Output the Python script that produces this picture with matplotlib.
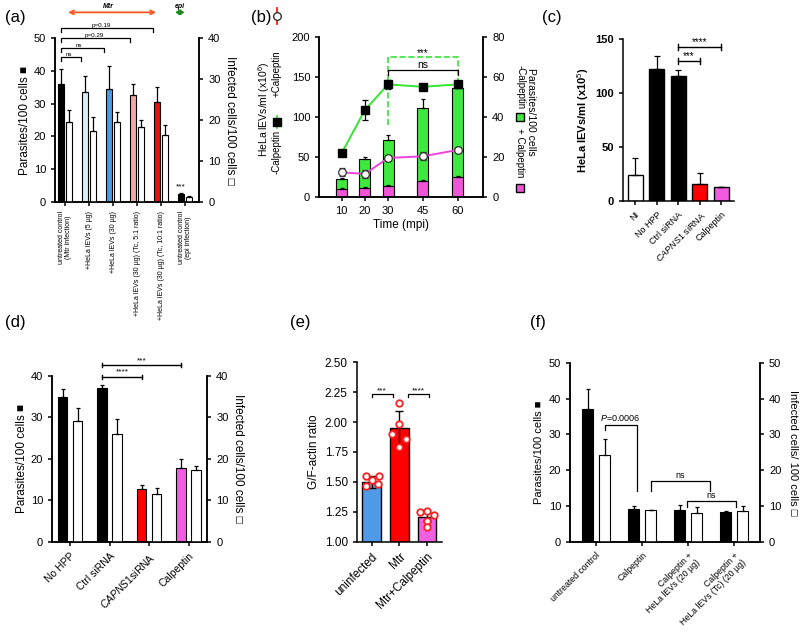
import numpy as np
import matplotlib
matplotlib.use("Agg")
import matplotlib.pyplot as plt

plt.rcParams['font.family'] = ['Liberation Sans', 'DejaVu Sans']
plt.rcParams['mathtext.fontset'] = 'custom'
plt.rcParams['mathtext.it'] = 'Liberation Sans:italic'
plt.rcParams['mathtext.rm'] = 'Liberation Sans'
plt.rcParams['axes.linewidth'] = 1.1
plt.rcParams['xtick.major.width'] = 1.1
plt.rcParams['ytick.major.width'] = 1.1
plt.rcParams['xtick.major.size'] = 3
plt.rcParams['ytick.major.size'] = 3

# ---------------- data ----------------
# (a)
a_labels = ["untreated control\n(Mtr infection)", "+HeLa lEVs (5 µg)", "+HeLa lEVs (30 µg)",
            "+HeLa lEVs (30 µg) (Tc, 5:1 ratio)", "+HeLa lEVs (30 µg) (Tc, 10:1 ratio)",
            "untreated control\n(epi infection)"]
a_parasites = [36, 33.5, 34.5, 32.5, 30.5, 2.5]
a_parasites_err = [4.5, 5, 7, 3.5, 4.5, 0.3]
a_infected = [19.6, 17.2, 19.6, 18.2, 16.4, 1.2]
a_infected_err = [2.8, 3.6, 2.4, 1.8, 2.4, 0.3]
a_colors = ["#000000", "#d8eef9", "#4a9be6", "#f6a5a5", "#ee1010", "#000000"]

# (b)
b_time = [10, 20, 30, 45, 60]
b_evs_minus = [55, 109, 141, 138, 141]
b_evs_minus_err = [4, 13, 6, 4, 4]
b_evs_plus = [31, 29, 49, 51, 59]
b_evs_plus_err = [5, 5, 4, 5, 4]
b_par_minus = [9, 19.2, 28.8, 44.8, 54.8]
b_par_minus_err = [0.5, 0.8, 2.4, 4.4, 2.0]
b_par_plus = [4, 4.4, 5.6, 8, 10]
b_par_plus_err = [0.5, 0.8, 0.5, 0.5, 0.5]

# (c)
c_labels = ["NI", "No HPP", "Ctrl siRNA", "$\\it{CAPNS1}$ siRNA", "Calpeptin"]
c_values = [24, 122, 116, 16, 12.5]
c_err = [15.5, 12, 5, 10, 0.5]
c_colors = ["#ffffff", "#000000", "#000000", "#ff0000", "#f25ce0"]

# (d)
d_labels = ["No HPP", "Ctrl siRNA", "$\\it{CAPNS1}$siRNA", "Calpeptin"]
d_parasites = [34.8, 37, 12.8, 17.8]
d_parasites_err = [2, 0.8, 1, 2.2]
d_infected = [29, 26, 11.5, 17.2]
d_infected_err = [3.2, 3.5, 1.5, 1]
d_colors = ["#000000", "#000000", "#ff0000", "#f25ce0"]

# (e)
e_labels = ["uninfected", "Mtr", "Mtr+Calpeptin"]
e_means = [1.50, 1.95, 1.21]
e_err = [0.05, 0.14, 0.04]
e_colors = ["#4f9be8", "#ff0000", "#f060e0"]
e_points = [[1.55, 1.55, 1.52, 1.47, 1.48],
            [2.16, 1.98, 1.90, 1.86, 1.79],
            [1.25, 1.26, 1.22, 1.17, 1.12]]
e_jitter = [[-0.2, 0.25, 0.0, -0.2, 0.22],
            [0.0, 0.0, -0.25, 0.25, 0.0],
            [-0.25, 0.0, 0.25, 0.0, 0.0]]

# (f)
f_labels = ["untreated control", "Calpeptin", "Calpeptin +\nHeLa lEVs (20 µg)",
            "Calpeptin +\nHeLa lEVs (Tc) (20 µg)"]
f_parasites = [37.2, 9.2, 8.8, 8.2]
f_parasites_err = [5.4, 0.8, 1.6, 0.3]
f_infected = [24.3, 8.8, 8.0, 8.5]
f_infected_err = [4.4, 0.15, 1.7, 1.5]

fig = plt.figure(figsize=(8, 6.42), dpi=100)


def style(ax, right=False):
    ax.spines['top'].set_visible(False)
    if not right:
        ax.spines['right'].set_visible(False)


def up_err(vals, errs):
    return [np.zeros(len(vals)), errs]


ekw = dict(lw=0.9, capthick=0.9, ecolor='black')


def bracket_down(ax, x1, x2, y, h, text, fs=5, dy=0.0, tx=None, color='black', ls='-'):
    ax.plot([x1, x1, x2, x2], [y - h, y, y, y - h], color=color, lw=0.9, ls=ls, clip_on=False)
    if text:
        ax.text((x1 + x2) / 2 if tx is None else tx, y + dy, text, ha='center', va='bottom',
                fontsize=fs, clip_on=False)


def bracket_caps(ax, x1, x2, y, h, text, fs=6, dy=0.0):
    ax.plot([x1, x2], [y, y], color='black', lw=1.0, clip_on=False)
    ax.plot([x1, x1], [y - h, y + h], color='black', lw=1.0, clip_on=False)
    ax.plot([x2, x2], [y - h, y + h], color='black', lw=1.0, clip_on=False)
    ax.text((x1 + x2) / 2, y + dy, text, ha='center', va='bottom', fontsize=fs, clip_on=False)


# ---------------- (a) ----------------
axA = fig.add_axes([0.069, 0.6854, 0.18, 0.2555])
xa = np.arange(len(a_labels))
axA.bar(xa - 0.17, a_parasites, 0.26, color=a_colors, edgecolor='black', lw=0.8,
        yerr=up_err(a_parasites, a_parasites_err), capsize=1.5, error_kw=ekw)
axA2 = axA.twinx()
axA2.bar(xa + 0.17, a_infected, 0.26, color='white', edgecolor='black', lw=0.8,
         yerr=up_err(a_infected, a_infected_err), capsize=1.5, error_kw=ekw)
axA.set_xlim(-0.42, 5.58)
axA.set_ylim(0, 50)
axA2.set_ylim(0, 40)
axA.set_yticks([0, 10, 20, 30, 40, 50])
axA2.set_yticks([0, 10, 20, 30, 40])
axA.tick_params(axis='y', labelsize=8)
axA2.tick_params(axis='y', labelsize=8)
axA.set_xticks(xa)
axA.set_xticklabels(a_labels, rotation=90, fontsize=5.0, va='top', ha='center', linespacing=1.0)
axA.set_ylabel("Parasites/100 cells \u25A0", fontsize=8.5, labelpad=2)
axA2.set_ylabel("Infected cells/100 cells \u25A1", fontsize=8.5, rotation=270, labelpad=11)
axA.spines['top'].set_visible(False)
axA2.spines['top'].set_visible(False)
bracket_down(axA, -0.17, 0.67, 44.3, 1.2, "ns", fs=4.5, tx=0.15)
bracket_down(axA, -0.17, 1.6, 46.9, 1.2, "ns", fs=4.5, tx=0.55)
bracket_down(axA, -0.17, 2.7, 49.9, 1.2, "p=0.29", fs=4.5, tx=1.2)
bracket_down(axA, -0.17, 3.67, 52.9, 1.2, "p=0.19", fs=4.5, tx=1.5)
axA.text(4.83, 3.5, "***", ha='center', va='bottom', fontsize=6)
axA.annotate('', xy=(3.9, 57.8), xytext=(0, 57.8), annotation_clip=False,
             arrowprops=dict(arrowstyle='<->', color='#ff5522', lw=1.3, mutation_scale=7))
axA.text(1.8, 58.6, "Mtr", fontsize=5, fontweight='bold', fontstyle='italic', ha='center',
         va='bottom', clip_on=False)
axA.annotate('', xy=(5.1, 57.8), xytext=(4.45, 57.8), annotation_clip=False,
             arrowprops=dict(arrowstyle='<->', color='#1a8a1a', lw=1.3, mutation_scale=7))
axA.text(4.78, 58.6, "epi", fontsize=5, fontweight='bold', fontstyle='italic', ha='center',
         va='bottom', clip_on=False)
fig.text(0.006, 0.965, "(a)", fontsize=12)

# ---------------- (b) ----------------
axB = fig.add_axes([0.399, 0.693, 0.205, 0.249])
axB2 = axB.twinx()
axB2.bar(b_time, b_par_minus, 4.7, color='#3ee83e', edgecolor='black', lw=0.8,
         yerr=up_err(b_par_minus, b_par_minus_err), capsize=1.5, error_kw=ekw)
axB2.bar(b_time, b_par_plus, 4.7, color='#f055d8', edgecolor='black', lw=0.8,
         yerr=up_err(b_par_plus, b_par_plus_err), capsize=1.5, error_kw=ekw)
axB.set_zorder(axB2.get_zorder() + 1)
axB.patch.set_visible(False)
axB.errorbar(b_time, b_evs_minus, yerr=b_evs_minus_err, color='#33e633', lw=1.4,
             marker='s', ms=6, mfc='black', mec='black', ecolor='black', elinewidth=0.9,
             capsize=2.5, capthick=0.9)
axB.errorbar(b_time, b_evs_plus, yerr=b_evs_plus_err, color='#ee44dd', lw=1.4,
             marker='o', ms=5.5, mfc='white', mec='#333333', mew=0.9, ecolor='#333333',
             elinewidth=0.9, capsize=2.5, capthick=0.9)
axB.set_xlim(0.3, 71)
axB.set_ylim(0, 200)
axB2.set_ylim(0, 80)
axB.set_yticks([0, 50, 100, 150, 200])
axB2.set_yticks([0, 20, 40, 60, 80])
axB.set_xticks(b_time)
axB.tick_params(labelsize=8)
axB2.tick_params(labelsize=8)
axB.spines['top'].set_visible(False)
axB2.spines['top'].set_visible(False)
axB.set_xlabel("Time (mpi)", fontsize=8.5, labelpad=2)
axB.text(-0.335, 0.55, "HeLa lEVs/ml (x10$^6$)", rotation=90, transform=axB.transAxes,
         ha='center', va='center', fontsize=7.5)
axB.text(-0.258, 0.28, "-Calpeptin", rotation=90, transform=axB.transAxes,
         ha='center', va='center', fontsize=7)
axB.text(-0.258, 0.77, "+Calpeptin", rotation=90, transform=axB.transAxes,
         ha='center', va='center', fontsize=7)
axB.plot([-0.258, -0.258], [0.43, 0.51], color='#33e633', lw=1.2, transform=axB.transAxes,
         clip_on=False)
axB.plot([-0.258], [0.47], marker='s', ms=6, color='black', transform=axB.transAxes,
         clip_on=False)
axB.plot([-0.258, -0.258], [1.08, 1.18], color='red', lw=1.2, transform=axB.transAxes,
         clip_on=False)
axB.plot([-0.258], [1.13], marker='o', ms=5.5, mfc='white', mec='#333333',
         transform=axB.transAxes, clip_on=False)
axB.text(1.29, 0.53, "Parasites/100 cells", rotation=270, transform=axB.transAxes,
         ha='center', va='center', fontsize=7.5)
axB.text(1.225, 0.69, "-Calpeptin", rotation=270, transform=axB.transAxes,
         ha='center', va='center', fontsize=7)
axB.text(1.225, 0.28, "+ Calpeptin", rotation=270, transform=axB.transAxes,
         ha='center', va='center', fontsize=7)
axB.plot([1.225], [0.5], marker='s', ms=6, mfc='#3ee83e', mec='black',
         transform=axB.transAxes, clip_on=False)
axB.plot([1.225], [0.06], marker='s', ms=6, mfc='#f055d8', mec='black',
         transform=axB.transAxes, clip_on=False)
axB.plot([30, 30, 60, 60], [90, 175, 175, 147], color='#33e633', lw=1.2, ls='--',
         clip_on=False)
axB.text(45, 174, "***", ha='center', va='bottom', fontsize=7)
bracket_down(axB, 30, 60, 159, 6, "ns", fs=7.5)
fig.text(0.314, 0.965, "(b)", fontsize=12)

# ---------------- (c) ----------------
axC = fig.add_axes([0.779, 0.687, 0.139, 0.252])
xc = np.arange(len(c_labels))
axC.bar(xc, c_values, 0.7, color=c_colors, edgecolor='black', lw=1.0,
        yerr=up_err(c_values, c_err), capsize=2, error_kw=ekw)
axC.set_xlim(-0.55, 4.6)
axC.set_ylim(0, 150)
axC.set_yticks([0, 50, 100, 150])
axC.tick_params(axis='y', labelsize=8)
axC.set_xticks(xc)
axC.set_xticklabels(c_labels, rotation=45, ha='right', rotation_mode='anchor', fontsize=6.5)
for t in axC.get_yticklabels():
    t.set_fontweight('bold')
axC.set_ylabel("HeLa lEVs/ml (x10$^5$)", fontsize=8, fontweight='bold', labelpad=3)
style(axC)
bracket_caps(axC, 2, 3, 129.6, 2.5, "***", fs=7)
bracket_caps(axC, 2, 4, 142.9, 2.5, "****", fs=7)
fig.text(0.678, 0.965, "(c)", fontsize=12)

# ---------------- (d) ----------------
axD = fig.add_axes([0.065, 0.156, 0.194, 0.2586])
xd = np.arange(len(d_labels))
axD.bar(xd - 0.19, d_parasites, 0.24, color=d_colors, edgecolor='black', lw=0.8,
        yerr=up_err(d_parasites, d_parasites_err), capsize=1.5, error_kw=ekw)
axD2 = axD.twinx()
axD2.bar(xd + 0.19, d_infected, 0.24, color='white', edgecolor='black', lw=0.8,
         yerr=up_err(d_infected, d_infected_err), capsize=1.5, error_kw=ekw)
axD.set_xlim(-0.46, 3.47)
axD.set_ylim(0, 40)
axD2.set_ylim(0, 40)
axD.set_yticks([0, 10, 20, 30, 40])
axD2.set_yticks([0, 10, 20, 30, 40])
axD.tick_params(axis='y', labelsize=8)
axD2.tick_params(axis='y', labelsize=8)
axD.set_xticks(xd)
axD.set_xticklabels(d_labels, rotation=45, ha='right', rotation_mode='anchor', fontsize=7.5)
axD.spines['top'].set_visible(False)
axD2.spines['top'].set_visible(False)
axD.set_ylabel("Parasites/100 cells \u25A0", fontsize=8.5, labelpad=2)
axD2.set_ylabel("Infected cells/100 cells \u25A1", fontsize=8.5, rotation=270, labelpad=11)
bracket_caps(axD, 0.81, 1.81, 39.8, 0.5, "****", fs=6, dy=0.2)
bracket_caps(axD, 0.81, 2.81, 42.6, 0.5, "***", fs=6, dy=0.2)
fig.text(0.006, 0.49, "(d)", fontsize=12)

# ---------------- (e) ----------------
axE = fig.add_axes([0.446, 0.156, 0.106, 0.28])
xe = np.arange(len(e_labels))
axE.bar(xe, np.array(e_means) - 1.0, 0.68, bottom=1.0, color=e_colors, edgecolor='black',
        lw=1.0)
axE.errorbar(xe, e_means, yerr=e_err, fmt='none', ecolor='black', elinewidth=1.0,
             capsize=3, capthick=1.0, zorder=3)
for i in range(len(e_points)):
    axE.scatter(np.array(e_jitter[i]) + i, e_points[i], s=22, facecolors='white',
                edgecolors='#ff2020', linewidths=1.3, zorder=4)
axE.set_xlim(-0.54, 2.53)
axE.set_ylim(1.0, 2.5)
axE.set_yticks([1.00, 1.25, 1.50, 1.75, 2.00, 2.25, 2.50])
axE.set_yticklabels(["1.00", "1.25", "1.50", "1.75", "2.00", "2.25", "2.50"])
axE.tick_params(axis='y', labelsize=8.5)
axE.set_xticks(xe)
axE.set_xticklabels(e_labels, rotation=45, ha='right', rotation_mode='anchor', fontsize=8.5)
axE.set_ylabel("G/F-actin ratio", fontsize=8.5, labelpad=3)
style(axE)
bracket_down(axE, 0.0, 0.76, 2.23, 0.02, "***", fs=6)
bracket_down(axE, 1.3, 2.06, 2.23, 0.02, "****", fs=6)
fig.text(0.362, 0.49, "(e)", fontsize=12)

# ---------------- (f) ----------------
axF = fig.add_axes([0.7125, 0.156, 0.2375, 0.279])
xf = np.arange(len(f_labels))
axF.bar(xf - 0.18, f_parasites, 0.24, color='black', edgecolor='black', lw=0.8,
        yerr=up_err(f_parasites, f_parasites_err), capsize=1.5, error_kw=ekw)
axF2 = axF.twinx()
axF2.bar(xf + 0.19, f_infected, 0.24, color='white', edgecolor='black', lw=0.8,
         yerr=up_err(f_infected, f_infected_err), capsize=1.5, error_kw=ekw)
axF.set_xlim(-0.56, 3.56)
axF.set_ylim(0, 50)
axF2.set_ylim(0, 50)
axF.set_yticks([0, 10, 20, 30, 40, 50])
axF2.set_yticks([0, 10, 20, 30, 40, 50])
axF.tick_params(axis='y', labelsize=8)
axF2.tick_params(axis='y', labelsize=8)
axF.set_xticks(xf)
axF.set_xticklabels(f_labels, rotation=45, ha='right', rotation_mode='anchor', fontsize=6.3)
axF.spines['top'].set_visible(False)
axF2.spines['top'].set_visible(False)
axF.set_ylabel("Parasites/100 cells \u25A0", fontsize=8, labelpad=3)
axF2.set_ylabel("Infected cells/ 100 cells \u25A1", fontsize=8, rotation=270, labelpad=12)
axF.plot([0.19, 0.19, 0.9, 0.9], [31.1, 32.5, 32.5, 14.3], color='black', lw=0.9)
axF.text(0.53, 33.2, "$P$=0.0006", ha='center', va='bottom', fontsize=6.5)
bracket_down(axF, 1.19, 2.47, 17.1, 2.8, "ns", fs=6.5, dy=0.3)
bracket_down(axF, 1.97, 3.04, 11.3, 1.7, "ns", fs=6.5, dy=0.3)
fig.text(0.662, 0.49, "(f)", fontsize=12)

fig.savefig("out.png", dpi=100)
